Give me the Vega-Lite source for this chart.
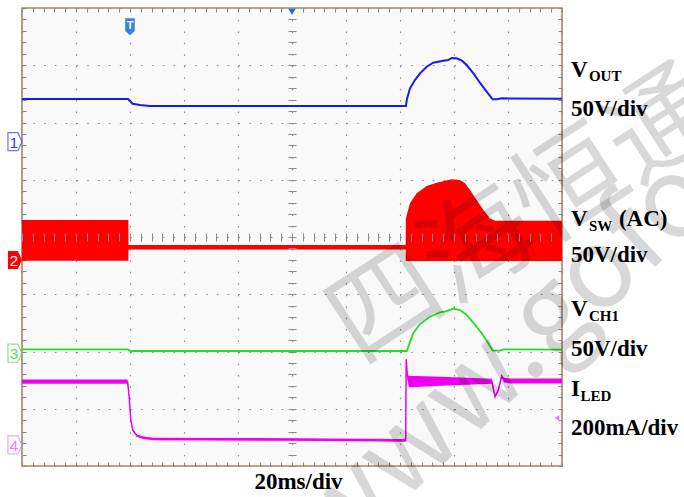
{
  "$schema": "https://vega.github.io/schema/vega-lite/v6.json",
  "width": 540,
  "height": 458,
  "autosize": {"type": "none"},
  "padding": {"left": 22, "top": 8, "right": 122, "bottom": 31},
  "background": "#ffffff",
  "config": {
    "view": {"fill": "#f9f9f9", "stroke": "#a08868", "strokeWidth": 1.6},
    "axis": {"labels": false, "domain": false, "ticks": false, "grid": false, "tickColor": "#8a8a8a", "tickWidth": 1}
  },
  "datasets": {
    "vsw": [
      {"t": 0, "hi": 0.297, "lo": -0.414},
      {"t": 39.4, "hi": 0.297, "lo": -0.414},
      {"t": 39.45, "hi": -0.14, "lo": -0.22},
      {"t": 142.1, "hi": -0.14, "lo": -0.22},
      {"t": 142.15, "hi": 0.3, "lo": -0.419},
      {"t": 142.5, "hi": 0.384, "lo": -0.419},
      {"t": 143.7, "hi": 0.589, "lo": -0.419},
      {"t": 146.2, "hi": 0.763, "lo": -0.419},
      {"t": 149.9, "hi": 0.891, "lo": -0.419},
      {"t": 153.6, "hi": 0.948, "lo": -0.419},
      {"t": 156.7, "hi": 0.983, "lo": -0.419},
      {"t": 159.1, "hi": 1.008, "lo": -0.419},
      {"t": 162.2, "hi": 0.996, "lo": -0.419},
      {"t": 164.1, "hi": 0.938, "lo": -0.419},
      {"t": 165.9, "hi": 0.821, "lo": -0.419},
      {"t": 168.4, "hi": 0.646, "lo": -0.419},
      {"t": 170.9, "hi": 0.472, "lo": -0.419},
      {"t": 173.3, "hi": 0.327, "lo": -0.419},
      {"t": 175.2, "hi": 0.285, "lo": -0.419},
      {"t": 200, "hi": 0.285, "lo": -0.419}
    ],
    "vout": [
      {"t": 0, "v": 2.41},
      {"t": 39.3, "v": 2.41},
      {"t": 40.98, "v": 2.328},
      {"t": 43.7, "v": 2.306},
      {"t": 47.4, "v": 2.288},
      {"t": 142.2, "v": 2.288},
      {"t": 142.5, "v": 2.393},
      {"t": 143.7, "v": 2.597},
      {"t": 145.6, "v": 2.745},
      {"t": 147.4, "v": 2.859},
      {"t": 149.9, "v": 2.975},
      {"t": 152.3, "v": 3.045},
      {"t": 156.0, "v": 3.08},
      {"t": 157.9, "v": 3.092},
      {"t": 159.1, "v": 3.127},
      {"t": 161.0, "v": 3.121},
      {"t": 162.9, "v": 3.08},
      {"t": 164.7, "v": 3.004},
      {"t": 167.2, "v": 2.859},
      {"t": 169.6, "v": 2.695},
      {"t": 172.1, "v": 2.538},
      {"t": 174.3, "v": 2.405},
      {"t": 175.8, "v": 2.405},
      {"t": 177.7, "v": 2.422},
      {"t": 200, "v": 2.416}
    ],
    "vch1": [
      {"t": 0, "v": -1.962},
      {"t": 39.1, "v": -1.962},
      {"t": 40.3, "v": -1.991},
      {"t": 142.5, "v": -1.991},
      {"t": 143.1, "v": -1.916},
      {"t": 144.9, "v": -1.682},
      {"t": 147.4, "v": -1.52},
      {"t": 151.1, "v": -1.392},
      {"t": 154.8, "v": -1.315},
      {"t": 157.3, "v": -1.293},
      {"t": 159.7, "v": -1.252},
      {"t": 162.2, "v": -1.275},
      {"t": 164.7, "v": -1.362},
      {"t": 167.1, "v": -1.497},
      {"t": 170.3, "v": -1.682},
      {"t": 172.7, "v": -1.857},
      {"t": 174.3, "v": -1.986},
      {"t": 177.0, "v": -1.986},
      {"t": 178.3, "v": -1.962},
      {"t": 200, "v": -1.968}
    ],
    "iled": [
      {"t": 0, "mid": -2.527, "hi": -2.49, "lo": -2.565},
      {"t": 39.1, "mid": -2.527, "hi": -2.49, "lo": -2.565},
      {"t": 39.7, "mid": -2.79, "hi": -2.77, "lo": -2.81},
      {"t": 40.3, "mid": -3.197, "hi": -3.18, "lo": -3.21},
      {"t": 41.0, "mid": -3.371, "hi": -3.355, "lo": -3.385},
      {"t": 42.5, "mid": -3.471, "hi": -3.45, "lo": -3.49},
      {"t": 44.9, "mid": -3.506, "hi": -3.485, "lo": -3.53},
      {"t": 48.6, "mid": -3.528, "hi": -3.505, "lo": -3.55},
      {"t": 100, "mid": -3.537, "hi": -3.515, "lo": -3.56},
      {"t": 142.1, "mid": -3.555, "hi": -3.53, "lo": -3.575},
      {"t": 142.3, "mid": -2.136, "hi": -2.12, "lo": -2.15},
      {"t": 142.7, "mid": -2.4, "hi": -2.37, "lo": -2.43},
      {"t": 143.2, "mid": -2.52, "hi": -2.43, "lo": -2.62},
      {"t": 146, "mid": -2.525, "hi": -2.43, "lo": -2.62},
      {"t": 155, "mid": -2.522, "hi": -2.44, "lo": -2.6},
      {"t": 165, "mid": -2.52, "hi": -2.46, "lo": -2.58},
      {"t": 174.0, "mid": -2.52, "hi": -2.475, "lo": -2.565},
      {"t": 175.2, "mid": -2.79, "hi": -2.77, "lo": -2.81},
      {"t": 176.4, "mid": -2.672, "hi": -2.65, "lo": -2.69},
      {"t": 177.7, "mid": -2.428, "hi": -2.41, "lo": -2.445},
      {"t": 178.5, "mid": -2.498, "hi": -2.46, "lo": -2.54},
      {"t": 180.7, "mid": -2.515, "hi": -2.47, "lo": -2.56},
      {"t": 200, "mid": -2.515, "hi": -2.47, "lo": -2.56}
    ],
    "channels": [
      {"ch": "1", "t": -2.6, "level": 1.665},
      {"ch": "2", "t": -2.6, "level": -0.4},
      {"ch": "3", "t": -2.6, "level": -2.03},
      {"ch": "4", "t": -2.6, "level": -3.633}
    ],
    "captions": [
      {"text": "V", "role": "symbol", "t": 203.3, "level": 2.795},
      {"text": "OUT", "role": "subV", "t": 203.3, "level": 2.795},
      {"text": "50V/div", "role": "scale", "t": 203.3, "level": 2.114},
      {"text": "V", "role": "symbol", "t": 203.3, "level": 0.192},
      {"text": "SW", "role": "subV", "t": 203.3, "level": 0.192},
      {"text": "(AC)", "role": "suffix", "t": 203.3, "level": 0.192},
      {"text": "50V/div", "role": "scale", "t": 203.3, "level": -0.437},
      {"text": "V", "role": "symbol", "t": 203.3, "level": -1.38},
      {"text": "CH1", "role": "subV", "t": 203.3, "level": -1.38},
      {"text": "50V/div", "role": "scale", "t": 203.3, "level": -2.079},
      {"text": "I", "role": "symbol", "t": 203.3, "level": -2.786},
      {"text": "LED", "role": "subI", "t": 203.3, "level": -2.786},
      {"text": "200mA/div", "role": "scale", "t": 203.3, "level": -3.459}
    ]
  },
  "resolve": {"axis": {"x": "independent", "y": "independent"}},
  "layer": [
    {
      "data": {"name": "vsw"},
      "mark": {"type": "area", "color": "#ff0000", "opacity": 1},
      "encoding": {
        "x": {"field": "t", "type": "quantitative",
          "scale": {"domain": [0, 200], "nice": false, "zero": false},
          "axis": {"orient": "bottom", "values": [0, 20, 40, 60, 80, 100, 120, 140, 160, 180, 200],
            "grid": true, "gridDash": [1.5, 9.95], "gridColor": "#8c8c8c", "gridWidth": 1.2, "gridOpacity": 1,
            "title": "20ms/div", "titleFont": "Liberation Serif", "titleFontSize": 23, "titleFontWeight": "bold",
            "titleColor": "#000000", "titleX": 276, "titleY": 22, "titleAlign": "center", "titleBaseline": "alphabetic"}},
        "y": {"field": "hi", "type": "quantitative",
          "scale": {"domain": [-4, 4], "nice": false, "zero": false},
          "axis": {"orient": "left", "values": [-4, -3, -2, -1, 0, 1, 2, 3, 4],
            "grid": true, "gridDash": [1.5, 9.3], "gridColor": "#8c8c8c", "gridWidth": 1.2, "gridOpacity": 1, "title": null}},
        "y2": {"field": "lo"}
      }
    },
    {
      "data": {"name": "vout"},
      "mark": {"type": "line", "color": "#1a1aeb", "strokeWidth": 2},
      "encoding": {
        "x": {"field": "t", "type": "quantitative",
          "axis": {"orient": "bottom", "offset": -4, "ticks": true, "tickSize": 4, "title": null,
            "values": [0,4,8,12,16,20,24,28,32,36,40,44,48,52,56,60,64,68,72,76,80,84,88,92,96,100,104,108,112,116,120,124,128,132,136,140,144,148,152,156,160,164,168,172,176,180,184,188,192,196,200]}},
        "y": {"field": "v", "type": "quantitative",
          "axis": {"orient": "left", "offset": -4, "ticks": true, "tickSize": 4, "title": null,
            "values": [-4,-3.8,-3.6,-3.4,-3.2,-3,-2.8,-2.6,-2.4,-2.2,-2,-1.8,-1.6,-1.4,-1.2,-1,-0.8,-0.6,-0.4,-0.2,0,0.2,0.4,0.6,0.8,1,1.2,1.4,1.6,1.8,2,2.2,2.4,2.6,2.8,3,3.2,3.4,3.6,3.8,4]}}
      }
    },
    {
      "data": {"name": "vch1"},
      "mark": {"type": "line", "color": "#22dd22", "strokeWidth": 1.8},
      "encoding": {
        "x": {"field": "t", "type": "quantitative",
          "axis": {"orient": "top", "offset": -4, "ticks": true, "tickSize": 4, "title": null,
            "values": [0,4,8,12,16,20,24,28,32,36,40,44,48,52,56,60,64,68,72,76,80,84,88,92,96,100,104,108,112,116,120,124,128,132,136,140,144,148,152,156,160,164,168,172,176,180,184,188,192,196,200]}},
        "y": {"field": "v", "type": "quantitative",
          "axis": {"orient": "right", "offset": -4, "ticks": true, "tickSize": 4, "title": null,
            "values": [-4,-3.8,-3.6,-3.4,-3.2,-3,-2.8,-2.6,-2.4,-2.2,-2,-1.8,-1.6,-1.4,-1.2,-1,-0.8,-0.6,-0.4,-0.2,0,0.2,0.4,0.6,0.8,1,1.2,1.4,1.6,1.8,2,2.2,2.4,2.6,2.8,3,3.2,3.4,3.6,3.8,4]}}
      }
    },
    {
      "data": {"name": "iled"},
      "mark": {"type": "area", "color": "#f000f0", "opacity": 1},
      "encoding": {
        "x": {"field": "t", "type": "quantitative", "axis": null},
        "y": {"field": "hi", "type": "quantitative", "axis": null},
        "y2": {"field": "lo"}
      }
    },
    {
      "data": {"name": "iled"},
      "mark": {"type": "line", "color": "#f000f0", "strokeWidth": 1.5},
      "encoding": {
        "x": {"field": "t", "type": "quantitative",
          "axis": {"orient": "bottom", "offset": -233, "ticks": true, "tickSize": 8, "zindex": 1, "title": null,
            "values": [0,4,8,12,16,20,24,28,32,36,40,44,48,52,56,60,64,68,72,76,80,84,88,92,96,100,104,108,112,116,120,124,128,132,136,140,144,148,152,156,160,164,168,172,176,180,184,188,192,196,200]}},
        "y": {"field": "mid", "type": "quantitative",
          "axis": {"orient": "left", "offset": -274, "ticks": true, "tickSize": 8, "zindex": 1, "title": null,
            "values": [-4,-3.8,-3.6,-3.4,-3.2,-3,-2.8,-2.6,-2.4,-2.2,-2,-1.8,-1.6,-1.4,-1.2,-1,-0.8,-0.6,-0.4,-0.2,0,0.2,0.4,0.6,0.8,1,1.2,1.4,1.6,1.8,2,2.2,2.4,2.6,2.8,3,3.2,3.4,3.6,3.8,4]}}
      }
    },
    {
      "mark": {"type": "rule", "color": "#8a8a8a", "strokeWidth": 1.2},
      "encoding": {"y": {"datum": 0, "type": "quantitative", "axis": null}}
    },
    {
      "mark": {"type": "rule", "color": "#8a8a8a", "strokeWidth": 1.2},
      "encoding": {"x": {"datum": 100, "type": "quantitative", "axis": null}}
    },
    {
      "data": {"name": "channels"},
      "transform": [{"filter": "datum.ch !== '2'"}],
      "mark": {"type": "point", "filled": true, "fill": "#ffffff", "strokeWidth": 1.2, "size": 361,
        "shape": "M-0.74,-0.95 L0.3,-0.95 L0.74,0 L0.3,0.95 L-0.74,0.95 Z"},
      "encoding": {
        "x": {"field": "t", "type": "quantitative", "axis": null},
        "y": {"field": "level", "type": "quantitative", "axis": null},
        "stroke": {"field": "ch", "type": "nominal", "legend": null,
          "scale": {"domain": ["1", "2", "3", "4"], "range": ["#3535ff", "#ff0000", "#4ee04e", "#f07af0"]}}
      }
    },
    {
      "data": {"name": "channels"},
      "transform": [{"filter": "datum.ch === '2'"}],
      "mark": {"type": "point", "filled": true, "size": 361, "opacity": 1,
        "shape": "M-0.74,-0.95 L0.3,-0.95 L0.74,0 L0.3,0.95 L-0.74,0.95 Z"},
      "encoding": {
        "x": {"field": "t", "type": "quantitative", "axis": null},
        "y": {"field": "level", "type": "quantitative", "axis": null},
        "fill": {"field": "ch", "type": "nominal", "legend": null,
          "scale": {"domain": ["1", "2", "3", "4"], "range": ["#3535ff", "#ff0000", "#4ee04e", "#f07af0"]}}
      }
    },
    {
      "data": {"name": "channels"},
      "mark": {"type": "text", "font": "Liberation Sans", "fontSize": 15, "dx": -1, "dy": 1, "align": "center", "baseline": "middle"},
      "encoding": {
        "x": {"field": "t", "type": "quantitative", "axis": null},
        "y": {"field": "level", "type": "quantitative", "axis": null},
        "text": {"field": "ch"},
        "color": {"field": "ch", "type": "nominal", "legend": null,
          "scale": {"domain": ["1", "2", "3", "4"], "range": ["#3535ff", "#ffffff", "#4ee04e", "#f07af0"]}}
      }
    },
    {
      "data": {"values": [{"t": 40, "level": 3.673, "label": "T"}]},
      "layer": [
        {
          "mark": {"type": "point", "filled": true, "size": 289, "color": "#3a82dc", "opacity": 1,
            "shape": "M-0.56,-1 L0.56,-1 L0.56,0.5 L0,1 L-0.56,0.5 Z"},
          "encoding": {
            "x": {"field": "t", "type": "quantitative", "axis": null},
            "y": {"field": "level", "type": "quantitative", "axis": null}
          }
        },
        {
          "mark": {"type": "text", "font": "Liberation Sans", "fontWeight": "bold", "fontSize": 11, "color": "#ffffff", "dy": -1, "align": "center", "baseline": "middle"},
          "encoding": {
            "x": {"field": "t", "type": "quantitative", "axis": null},
            "y": {"field": "level", "type": "quantitative", "axis": null},
            "text": {"field": "label"}
          }
        }
      ]
    },
    {
      "data": {"values": [{"t": 100, "level": 3.93}]},
      "mark": {"type": "point", "shape": "triangle-down", "filled": true, "size": 50, "color": "#2a6fd6", "opacity": 1},
      "encoding": {
        "x": {"field": "t", "type": "quantitative", "axis": null},
        "y": {"field": "level", "type": "quantitative", "axis": null}
      }
    },
    {
      "data": {"values": [{"t": 198.1, "level": -3.16}]},
      "mark": {"type": "point", "shape": "triangle-left", "filled": true, "size": 30, "color": "#f070f0", "opacity": 1},
      "encoding": {
        "x": {"field": "t", "type": "quantitative", "axis": null},
        "y": {"field": "level", "type": "quantitative", "axis": null}
      }
    },
    {
      "data": {"name": "captions"},
      "transform": [{"filter": "datum.role === 'symbol' || datum.role === 'scale'"}],
      "mark": {"type": "text", "font": "Liberation Serif", "fontWeight": "bold", "fontSize": 23, "color": "#000000", "align": "left", "baseline": "alphabetic"},
      "encoding": {
        "x": {"field": "t", "type": "quantitative", "axis": null},
        "y": {"field": "level", "type": "quantitative", "axis": null},
        "text": {"field": "text"}
      }
    },
    {
      "data": {"name": "captions"},
      "transform": [{"filter": "datum.role === 'subV'"}],
      "mark": {"type": "text", "font": "Liberation Serif", "fontWeight": "bold", "fontSize": 15, "color": "#000000", "align": "left", "baseline": "alphabetic", "dx": 18, "dy": 4.5},
      "encoding": {
        "x": {"field": "t", "type": "quantitative", "axis": null},
        "y": {"field": "level", "type": "quantitative", "axis": null},
        "text": {"field": "text"}
      }
    },
    {
      "data": {"name": "captions"},
      "transform": [{"filter": "datum.role === 'subI'"}],
      "mark": {"type": "text", "font": "Liberation Serif", "fontWeight": "bold", "fontSize": 15, "color": "#000000", "align": "left", "baseline": "alphabetic", "dx": 9.5, "dy": 4.5},
      "encoding": {
        "x": {"field": "t", "type": "quantitative", "axis": null},
        "y": {"field": "level", "type": "quantitative", "axis": null},
        "text": {"field": "text"}
      }
    },
    {
      "data": {"name": "captions"},
      "transform": [{"filter": "datum.role === 'suffix'"}],
      "mark": {"type": "text", "font": "Liberation Serif", "fontWeight": "bold", "fontSize": 23, "color": "#000000", "align": "left", "baseline": "alphabetic", "dx": 48},
      "encoding": {
        "x": {"field": "t", "type": "quantitative", "axis": null},
        "y": {"field": "level", "type": "quantitative", "axis": null},
        "text": {"field": "text"}
      }
    },
    {
      "data": {"values": [
        {"text": "四海恒通", "t": 186.7, "level": 0.33, "size": 110, "angle": -33},
        {"text": "www.gofo", "t": 178.9, "level": -2.15, "size": 112, "angle": -43}
      ]},
      "mark": {"type": "text", "font": "Noto Sans CJK SC", "color": "#000000", "opacity": 0.15, "align": "center", "baseline": "middle"},
      "encoding": {
        "x": {"field": "t", "type": "quantitative", "axis": null},
        "y": {"field": "level", "type": "quantitative", "axis": null},
        "text": {"field": "text"},
        "size": {"field": "size", "type": "quantitative", "scale": null},
        "angle": {"field": "angle", "type": "quantitative", "scale": null}
      }
    }
  ]
}
